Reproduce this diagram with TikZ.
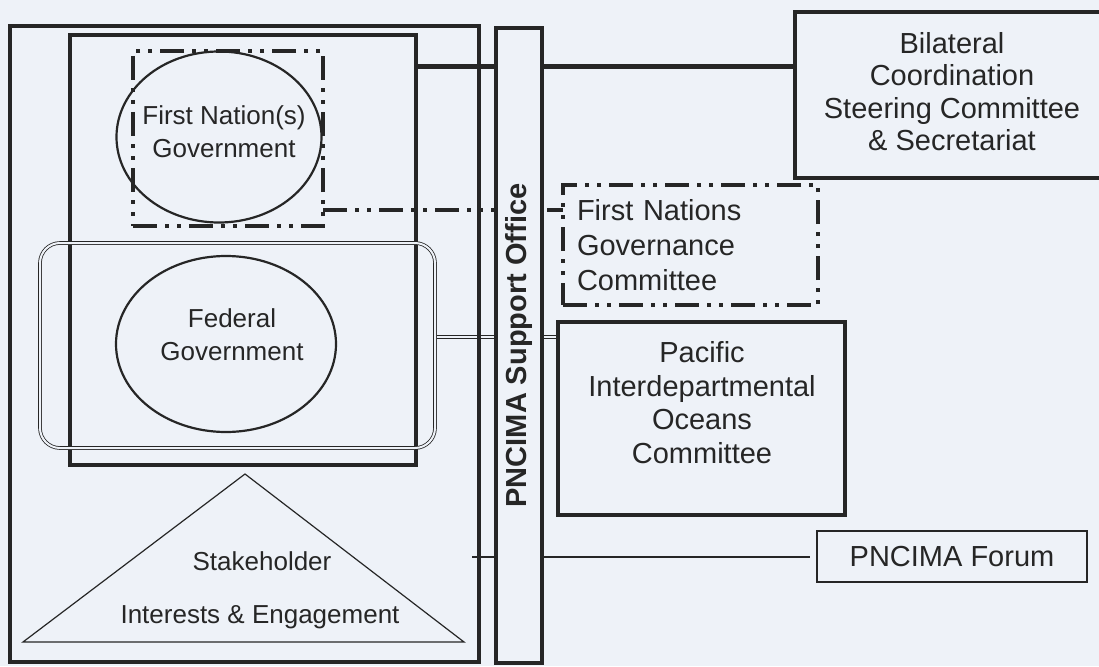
\documentclass[tikz,border=0pt]{standalone}
\usepackage{fontspec}
\setmainfont{Liberation Sans}
\usetikzlibrary{shapes.geometric,positioning,backgrounds}

\definecolor{paper}{RGB}{238,242,248}
\definecolor{ink}{RGB}{38,38,38}

\begin{document}
\begin{tikzpicture}[x=1pt, y=-1pt,
   every node/.style={text=ink, outer sep=0pt},
   heavy/.style={draw=ink, line width=4.5pt, rectangle, inner sep=0pt},
   light/.style={draw=ink, line width=2.6pt, rectangle, inner sep=0pt},
   oval/.style={draw=ink, ellipse, line width=2.2pt, inner sep=0pt},
   dashdotdot/.style={draw=ink, line width=3.2pt, dash pattern=on 24pt off 8pt on 4pt off 8pt on 4pt off 8pt},
   txt/.style={font=\fontsize{26}{33}\selectfont, align=center},
   bigtxt/.style={font=\fontsize{29}{33}\selectfont, align=center}]
   \useasboundingbox (0,0) rectangle (1099,666);
   \clip (0,0) rectangle (1099,666);
   \begin{scope}[on background layer]
   \fill[paper] (0,0) rectangle (1099,666);
   \end{scope}

   \node (outer) at (244.5,344) [heavy, minimum width=469, minimum height=636] {};
   \node (inner) at (243,250) [heavy, minimum width=346, minimum height=430] {};
   \node (fnrect) at (228,138.5) [dashdotdot, minimum width=190, minimum height=175] {};
   \node (fngov) at (219,137) [oval, minimum width=205, minimum height=171] {};
   \node (fngovtext) at (224,132) [txt] {First Nation(s)\\Government};
   \node (fedbox) at (237.5,345.5) [draw=ink, double=paper, double distance=2pt, line width=0.8pt,
      rounded corners=20pt, minimum width=395, minimum height=205] {};
   \node (fedgov) at (226,344) [oval, minimum width=220, minimum height=176] {};
   \node (fedgovtext) at (232,335) [txt] {Federal\\Government};

   \coordinate (apex) at (245,474);
   \coordinate (baseleft) at (23,642);
   \coordinate (baseright) at (464,642);
   \draw[ink, line width=1.2pt] (apex) -- (baseright) -- (baseleft) -- cycle;
   \node (stake) at (262,561) [txt] {Stakeholder};
   \node (engage) at (260,617) [txt] {Interests \& Engagement};

   % runs off the right edge of the page
   \node (bilat) at (947,95) [minimum width=304, minimum height=166, inner sep=0pt] {};
   \draw[ink, line width=4.5pt] (bilat.north east) -- (bilat.north west) -- (bilat.south west) -- (bilat.south east);
   \node (bilattext) at (952,91.5) [bigtxt, font=\fontsize{29}{32.3}\selectfont] {Bilateral\\Coordination\\Steering Committee\\\& Secretariat};
   \node (fngc) at (690.5,245) [dashdotdot, minimum width=255, minimum height=120, inner xsep=14pt,
      text width=227pt, align=left, font=\fontsize{29}{35}\selectfont] {First Nations\\Governance\\Committee};
   \node (pioc) at (701.5,418.5) [heavy, minimum width=287, minimum height=193] {};
   \node (piotext) at (702,402.5) [bigtxt, font=\fontsize{29}{33.7}\selectfont] {Pacific\\Interdepartmental\\Oceans\\Committee};
   \node (forum) at (952,556.5) [light, minimum width=270, minimum height=51, bigtxt] {PNCIMA Forum};

   % links to the right hand boxes
   \coordinate (bilink) at (600,67);
   \coordinate (fnlink) at (600,210);
   \coordinate (fedlink) at (600,337);
   \begin{scope}[on background layer]
   \draw[ink, line width=5pt] (inner.east |- bilink) -- (bilink -| bilat.west);
   \draw[dashdotdot] (fnrect.east |- fnlink) -- (fnlink -| fngc.west);
   \draw[ink, double=paper, double distance=2pt, line width=0.8pt] (fedbox.east |- fedlink) -- (fedlink -| pioc.west);
   \draw[ink, line width=2pt, shorten <=-7pt, shorten >=7pt] (outer.east |- forum.west) -- (forum.west);
   \end{scope}

   \node (office) at (519,345.5) [heavy, fill=paper, rotate=90, minimum width=635, minimum height=46,
      font=\fontsize{29}{29}\selectfont\bfseries] {PNCIMA Support Office};
\end{tikzpicture}
\end{document}
